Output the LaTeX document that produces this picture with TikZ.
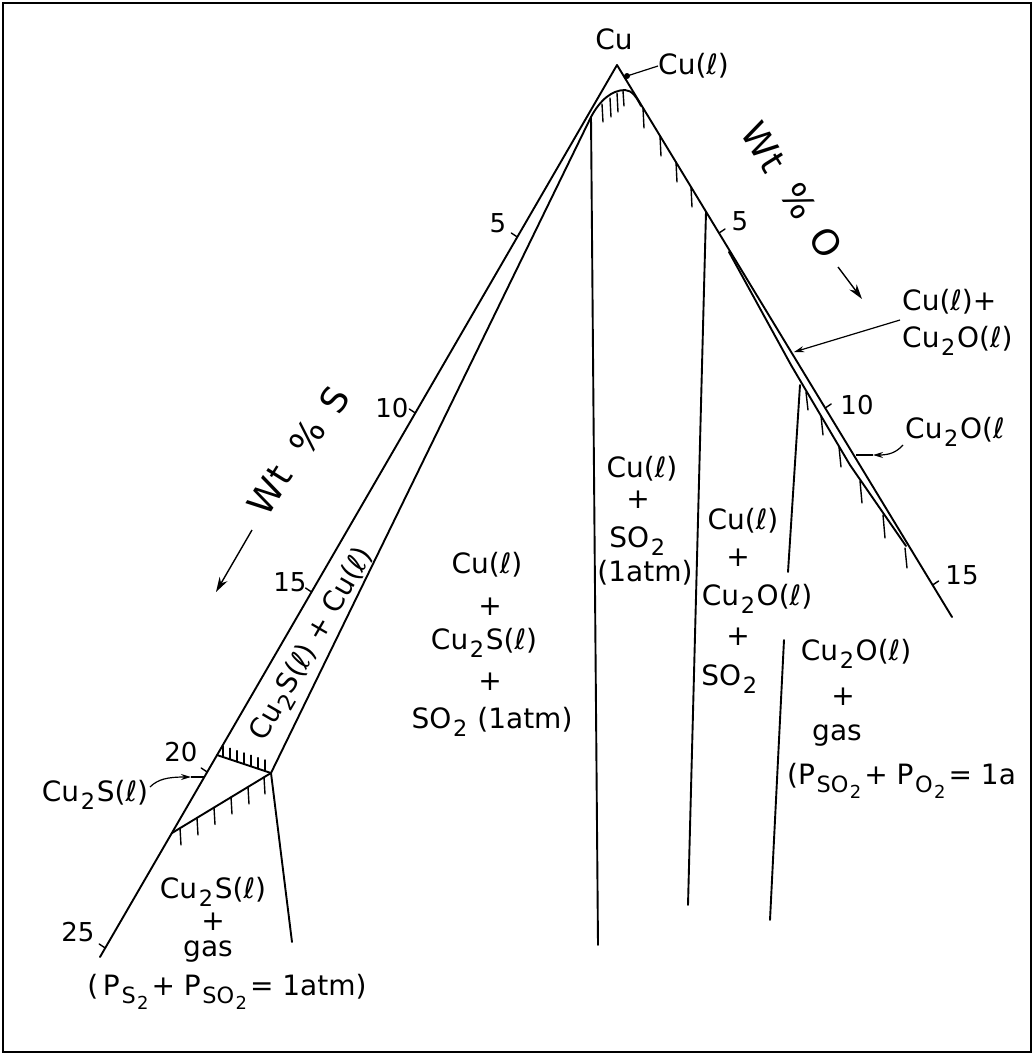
\documentclass[tikz,border=0pt]{standalone}
\usepackage{fontspec}
\setmainfont{DejaVu Sans}
\usetikzlibrary{arrows.meta}
\newcommand{\Sb}[1]{\kern0.06em\raisebox{-0.28em}{\scalebox{0.8}{#1}}\kern0.06em}
\begin{document}
\begin{tikzpicture}[x=1pt,y=-1pt,
  ph/.style={line width=1.9pt,line cap=round,line join=round},
  hatch/.style={line width=1.4pt,line cap=round},
  tickm/.style={line width=1.4pt,line cap=round},
  txt/.style={inner sep=0pt,font=\fontsize{28}{30}\selectfont},
  num/.style={inner sep=0pt,font=\fontsize{26}{28}\selectfont},
  axlbl/.style={inner sep=0pt,font=\fontsize{36}{38}\selectfont},
  lead/.style={line width=1.2pt},
  tipS/.style={-{Stealth[length=10pt,width=6pt]}},
  tipB/.style={-{Stealth[length=15pt,width=9pt]}},
]
\useasboundingbox (0,0) rectangle (1034,1055);
\draw[line width=2.5pt] (3,3) rectangle (1031,1052);

% key points
\coordinate (apex) at (617,65);
\coordinate (lend) at (100,957);
\coordinate (rend) at (952,617);
\coordinate (stop) at (591,117);
\coordinate (peak) at (625,90);
\coordinate (arcr) at (641,106);
\coordinate (corner) at (271,773);
\coordinate (sbl) at (217,755);
\coordinate (lbl) at (172,833);
\coordinate (cbot) at (292,942);
\coordinate (v1b) at (598,945);
\coordinate (v2t) at (706,212);
\coordinate (v2b) at (688,905);
\coordinate (st1) at (729,252);
\coordinate (st2) at (791,365);
\coordinate (st3) at (850,465);
\coordinate (st4) at (906,546);
\coordinate (v3t) at (800,385);
\coordinate (v3b) at (788,572);
\coordinate (v4t) at (784,640);
\coordinate (v4b) at (770,920);

% phase boundaries
\draw[ph] (lend) -- (apex) -- (rend);
\draw[ph] (corner) -- (stop) .. controls (600,100) and (612,90) .. (peak) .. controls (632,90) and (637,98) .. (arcr);
\draw[ph] (stop) -- (v1b);
\draw[ph] (v2t) -- (v2b);
\draw[ph] (st1) -- (st2) -- (st3) -- (st4);
\draw[ph] (v3t) -- (v3b);
\draw[ph] (v4t) -- (v4b);
\draw[ph] (sbl) -- (corner) -- (cbot);
\draw[ph] (lbl) -- (corner);

% hatching
\foreach \x/\ya/\yb in {602/104/122, 610/98/117, 617/93/112, 623/91/106}
  \draw[hatch] (\x,\ya) -- (\x+1,\yb);
\foreach \x/\y in {643/108,660/136,676/162,691/187}
  \draw[hatch] (\x,\y) -- (\x+1,\y+20);
\foreach \x/\y/\l in {806/392/18,821/416/19,839/447/20,860/481/22,883/515/23,905/548/20}
  \draw[hatch] (\x,\y) -- (\x+2,\y+\l);
\foreach \x/\y in {180/828,197/818,214/807.5,231/797,248/787,264/777}
  \draw[hatch] (\x,\y) -- (\x+1,\y+17);
\foreach \x/\y in {223/757,230/759.3,237/761.7,244/764,251/766.3,258/768.7,265/771}
  \draw[hatch] (\x,\y) -- (\x,\y-11);

% scale ticks
\foreach \x/\y in {517.3/237,415.3/413,311.6/592,207.2/772,105.2/948}
  \draw[tickm] (\x,\y) -- (\x-6,\y-4);
\foreach \x/\y in {719/233,825.2/408,932.6/585}
  \draw[tickm] (\x,\y) -- (\x+6,\y-4);

% scale numbers
\node[num] (l5) at (498,223) {5};
\node[num] (l10) at (392,408) {10};
\node[num] (l15) at (290,582) {15};
\node[num] (l20) at (181,752) {20};
\node[num] (l25) at (78,932) {25};
\node[num] (r5) at (740,221) {5};
\node[num] (r10) at (857,405) {10};
\node[num] (r15) at (962,575) {15};

% axis labels
\node[axlbl,rotate=58] (wtsw) at (270,490) {Wt};
\node[axlbl,rotate=58] (wtsp) at (307,437) {\%};
\node[axlbl,rotate=58] (wtss) at (334,400) {S};
\coordinate (wtsa) at (252,530);
\coordinate (wtsb) at (216,592);
\draw[line width=1.4pt,tipB] (wtsa) -- (wtsb);
\node[axlbl,rotate=-58] (wtow) at (764,147) {Wt};
\node[axlbl,rotate=-58] (wtop) at (799,201) {\%};
\node[axlbl,rotate=-58] (wtoo) at (826,243) {O};
\coordinate (wtoa) at (838,267);
\coordinate (wtob) at (862,299);
\draw[line width=1.4pt,tipB] (wtoa) -- (wtob);

% top labels
\node[txt] (cu) at (614,39) {Cu};
\node[txt,anchor=west] (cul) at (658,66) {Cu(ℓ)};
\coordinate (cudot) at (627,76);
\draw[lead] (cul.west) -- (cudot);
\fill (cudot) circle[radius=3pt];

% strip label
\node[txt,rotate=60] (strip) at (313,645) {Cu\Sb{2}S(ℓ) + Cu(ℓ)};

% column 1
\node[txt] (c1a) at (487,565) {Cu(ℓ)};
\node[txt] (c1b) at (490,607) {+};
\node[txt] (c1c) at (484,643) {Cu\Sb{2}S(ℓ)};
\node[txt] (c1d) at (490,682) {+};
\node[txt] (c1e) at (492,722) {SO\Sb{2}\hspace{0.3em}(1atm)};

% column 2
\node[txt] (c2a) at (642,469) {Cu(ℓ)};
\node[txt] (c2b) at (638,500) {+};
\node[txt] (c2c) at (638,541) {SO\Sb{2}};
\node[txt] (c2d) at (645,573) {(1atm)};

% column 3
\node[txt] (c3a) at (743,521) {Cu(ℓ)};
\node[txt] (c3b) at (738,558) {+};
\node[txt] (c3c) at (757,599) {Cu\Sb{2}O(ℓ)};
\node[txt] (c3d) at (738,637) {+};
\node[txt] (c3e) at (730,679) {SO\Sb{2}};

% column 4
\node[txt] (c4a) at (856,654) {Cu\Sb{2}O(ℓ)};
\node[txt] (c4b) at (843,697) {+};
\node[txt] (c4c) at (837,736) {gas};
\node[txt,anchor=west] (c4d) at (787,781) {(P\Sb{SO\Sb{2}}+ P\Sb{O\Sb{2}} = 1a};

% bottom-left region
\node[txt] (b1) at (213,892) {Cu\Sb{2}S(ℓ)};
\node[txt] (b2) at (213,922) {+};
\node[txt] (b3) at (208,952) {gas};
\node[txt] (b4) at (227,992) {(\,P\Sb{S\Sb{2}} + P\Sb{SO\Sb{2}} = 1atm)};

% left label with arrow
\node[txt] (lcs) at (95,795) {Cu\Sb{2}S(ℓ)};
\coordinate (lcsa) at (150,787);
\coordinate (lcsb) at (191,777);
\coordinate (lcsc) at (204,777);
\draw[lead,tipS] (lcsa) .. controls (158,779) and (168,777) .. (lcsb);
\draw[lead] (lcsb) -- (lcsc);

% right labels with arrows
\node[txt,anchor=west] (rcup) at (902,302) {Cu(ℓ)+};
\node[txt,anchor=west] (rcuo) at (902,341) {Cu\Sb{2}O(ℓ)};
\coordinate (rcua) at (900,320);
\coordinate (rcub) at (794,352);
\draw[lead,tipS] (rcua) -- (rcub);

\node[txt,anchor=west] (rco) at (905,432) {Cu\Sb{2}O(ℓ};
\coordinate (rcoa) at (903,445);
\coordinate (rcob) at (873,455);
\coordinate (rcoc) at (856,455);
\draw[lead,tipS] (rcoa) .. controls (896,453) and (888,455) .. (rcob);
\draw[lead] (rcob) -- (rcoc);
\end{tikzpicture}
\end{document}
